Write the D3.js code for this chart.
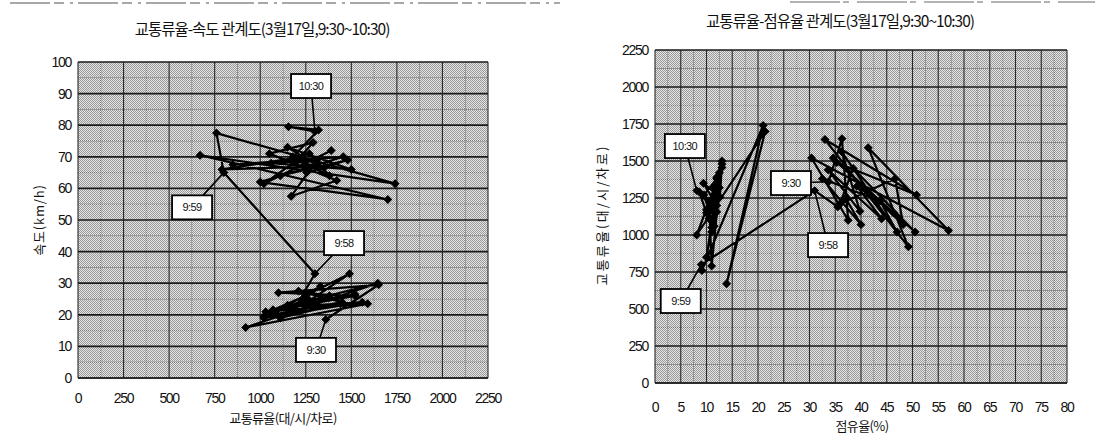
<!DOCTYPE html>
<html>
<head>
<meta charset="utf-8">
<script src="https://cdn.jsdelivr.net/npm/d3@7"></script>
<style>
  body { margin: 0; background: #fff; }
  svg text { font-family: "Liberation Sans", Arial, sans-serif; fill: #111; }
  svg .kr { font-family: "Noto Sans CJK KR", "Noto Sans", sans-serif; }
</style>
</head>
<body>
<svg id="chart" width="1095" height="435"></svg>
<script>
// one-minute samples, 9:30 ~ 10:30
const times = [
  "9:30","9:31","9:32","9:33","9:34","9:35","9:36","9:37","9:38","9:39",
  "9:40","9:41","9:42","9:43","9:44","9:45","9:46","9:47","9:48","9:49",
  "9:50","9:51","9:52","9:53","9:54","9:55","9:56","9:57","9:58","9:59",
  "10:00","10:01","10:02","10:03","10:04","10:05","10:06","10:07","10:08","10:09",
  "10:10","10:11","10:12","10:13","10:14","10:15","10:16","10:17","10:18","10:19",
  "10:20","10:21","10:22","10:23","10:24","10:25","10:26","10:27","10:28","10:29",
  "10:30"
];
// 교통류율 (대/시/차로)
const flow = [
  1360,1650,1100,1520,1030,1590,920,1645,1270,1490,
  1020,1450,1210,1380,1070,1520,1150,1330,1110,1440,
  1160,1560,1020,1230,1380,1070,1250,1190,1300,800,
  760,1740,670,1700,1000,1456,850,1310,1170,1420,
  1050,1290,1200,1350,1255,1480,1110,1390,1020,1230,
  790,1320,1150,1500,1060,1270,1380,1180,1320,1155,
  1300
];
// 속도 (km/h)
const speed = [
  18.5,29.5,27,26,21,23.5,16,30,24.5,33,
  19.5,24,27.5,26,21.5,26.5,23,29,19,23.5,
  22.5,24,19,24.5,25.5,21.5,26,22,33,65,
  77.5,61.5,70.5,56.5,62,70,67.5,69,57.5,62.5,
  71,74.5,68.5,66.5,65,69,64,72,61.5,70,
  66,67,73,66,68,71,64,70,78.5,79.5,
  78
];
// 점유율 (%)
const occupancy = [
  33.7,36.3,37.5,30.4,57,41.4,49.2,33,50.8,35.3,
  50.5,38.5,35.9,46.6,48.2,34.6,46.3,39.2,44,33.6,
  39.8,36.3,47,43.7,32.5,40,37,35.5,31,9,
  9.1,21,13.9,21.4,8.1,13,10,12,10,12.5,
  11,8.6,12,9.4,12.6,13,10.5,12,11,10.5,
  11,12.5,10,13,11.5,9.5,12,10.8,11.5,12,
  8.1
];

const speedTicks = d3.range(0, 101, 10);
const flowTicks = d3.range(0, 2251, 250);
const occTicks = d3.range(0, 81, 5);

// callout boxes: which sample they point at and where the box sits (data units)
const speedNotes = [
  { time: "10:30", bx: 1279, by: 92.4 },
  { time: "9:59", bx: 626, by: 54 },
  { time: "9:58", bx: 1460, by: 42.7 },
  { time: "9:30", bx: 1306, by: 8.9 }
];
const occNotes = [
  { time: "10:30", bx: 5.8, by: 1601 },
  { time: "9:59", bx: 5.0, by: 554 },
  { time: "9:30", bx: 26.4, by: 1351 },
  { time: "9:58", bx: 33.6, by: 932 }
];

const svg = d3.select("#chart");

// halftone background like the scanned original
const defs = svg.append("defs");
const pat = defs.append("pattern")
  .attr("id", "halftone")
  .attr("width", 4).attr("height", 4)
  .attr("patternUnits", "userSpaceOnUse");
pat.append("rect").attr("width", 4).attr("height", 4).attr("fill", "#e4e4e4");
[[0,0],[2,0],[1,1],[3,1],[0,2],[2,2],[1,3],[3,3]].forEach(([x, y]) => {
  pat.append("rect").attr("x", x).attr("y", y).attr("width", 1).attr("height", 1).attr("fill", "#9a9a9a");
});

// faint scan marks along the top edge
svg.append("line").attr("x1", 10).attr("x2", 560).attr("y1", 3).attr("y2", 3)
  .attr("stroke", "#8a8a8a").attr("stroke-width", 1.5).attr("stroke-dasharray", "40,4,10,6,3,5");
svg.append("line").attr("x1", 790).attr("x2", 1095).attr("y1", 2).attr("y2", 2)
  .attr("stroke", "#9a9a9a").attr("stroke-width", 1.5).attr("stroke-dasharray", "50,3,6,8");

function drawPanel(cfg) {
  const x = d3.scaleLinear().domain(cfg.xDomain).range([cfg.left, cfg.right]);
  const y = d3.scaleLinear().domain(cfg.yDomain).range([cfg.bottom, cfg.top]);
  const g = svg.append("g");

  g.append("rect")
    .attr("x", cfg.left).attr("y", cfg.top)
    .attr("width", cfg.right - cfg.left).attr("height", cfg.bottom - cfg.top)
    .attr("fill", "url(#halftone)");

  // minor grid (half steps)
  const xMinor = d3.range(cfg.xDomain[0], cfg.xDomain[1], cfg.xStep / 2).filter((v, i) => i % 2 == 1);
  const yMinor = d3.range(cfg.yDomain[0], cfg.yDomain[1], cfg.yStep / 2).filter((v, i) => i % 2 == 1);
  g.selectAll(".xminor").data(xMinor).join("line")
    .attr("x1", d => x(d)).attr("x2", d => x(d))
    .attr("y1", cfg.top).attr("y2", cfg.bottom)
    .attr("stroke", "#666").attr("stroke-width", 0.8).attr("stroke-dasharray", "1,1");
  g.selectAll(".yminor").data(yMinor).join("line")
    .attr("x1", cfg.left).attr("x2", cfg.right)
    .attr("y1", d => y(d)).attr("y2", d => y(d))
    .attr("stroke", "#666").attr("stroke-width", 0.8).attr("stroke-dasharray", "1,1");

  // major grid
  g.selectAll(".xmajor").data(cfg.xTicks).join("line")
    .attr("x1", d => x(d)).attr("x2", d => x(d))
    .attr("y1", cfg.top).attr("y2", cfg.bottom)
    .attr("stroke", "#2a2a2a").attr("stroke-width", 1.1);
  g.selectAll(".ymajor").data(cfg.yTicks).join("line")
    .attr("x1", cfg.left).attr("x2", cfg.right)
    .attr("y1", d => y(d)).attr("y2", d => y(d))
    .attr("stroke", "#1a1a1a").attr("stroke-width", 1.7);

  g.append("line")
    .attr("x1", cfg.left).attr("x2", cfg.right)
    .attr("y1", cfg.bottom).attr("y2", cfg.bottom)
    .attr("stroke", "#222").attr("stroke-width", 1.4);

  // tick labels
  g.selectAll(".ylab").data(cfg.yTicks).join("text")
    .attr("x", cfg.left - 7).attr("y", d => y(d) + 5)
    .attr("text-anchor", "end")
    .attr("font-size", 14).attr("letter-spacing", -1.3)
    .text(d => d);
  g.selectAll(".xlab").data(cfg.xTicks).join("text")
    .attr("x", d => x(d)).attr("y", cfg.bottom + cfg.xLabGap)
    .attr("text-anchor", "middle")
    .attr("font-size", 14).attr("letter-spacing", -1.3)
    .text(d => d);

  // titles
  g.append("text").attr("class", "kr")
    .attr("x", cfg.titleX).attr("y", cfg.titleY)
    .attr("text-anchor", "middle").attr("font-size", 15.5).attr("letter-spacing", -1)
    .text(cfg.title);
  g.append("text").attr("class", "kr")
    .attr("x", cfg.xTitleX).attr("y", cfg.xTitleY)
    .attr("text-anchor", "middle").attr("font-size", 13).attr("letter-spacing", -0.6)
    .text(cfg.xTitle);
  g.append("text").attr("class", "kr")
    .attr("transform", `translate(${cfg.yTitleX},${cfg.yTitleY}) rotate(-90)`)
    .attr("text-anchor", "middle").attr("font-size", 13).attr("letter-spacing", cfg.yTitleSpacing)
    .text(cfg.yTitle);

  // trajectory
  const pts = times.map((t, i) => ({ t, x: cfg.xs[i], y: cfg.ys[i] }));
  const line = d3.line().x(d => x(d.x)).y(d => y(d.y));
  g.append("path").datum(pts)
    .attr("d", line)
    .attr("fill", "none").attr("stroke", "#000")
    .attr("stroke-width", 2.2).attr("stroke-linejoin", "round");
  g.selectAll(".pt").data(pts).join("path")
    .attr("transform", d => `translate(${x(d.x)},${y(d.y)}) rotate(45)`)
    .attr("d", d3.symbol(d3.symbolSquare, 40))
    .attr("fill", "#000");

  // callouts
  const notes = g.selectAll(".note").data(cfg.notes).join("g");
  notes.append("line")
    .attr("x1", d => x(d.bx)).attr("y1", d => y(d.by))
    .attr("x2", d => x(pts.find(p => p.t == d.time).x))
    .attr("y2", d => y(pts.find(p => p.t == d.time).y))
    .attr("stroke", "#000").attr("stroke-width", 1.6);
  notes.append("rect")
    .attr("x", d => x(d.bx) - 20).attr("y", d => y(d.by) - 12)
    .attr("width", 40).attr("height", 24)
    .attr("fill", "#fff").attr("stroke", "#000").attr("stroke-width", 1.8);
  notes.append("text")
    .attr("x", d => x(d.bx)).attr("y", d => y(d.by) + 4)
    .attr("text-anchor", "middle").attr("font-size", 11).attr("letter-spacing", -0.6)
    .text(d => d.time);
}

drawPanel({
  left: 78, right: 488, top: 62, bottom: 378,
  xDomain: [0, 2250], yDomain: [0, 100], xStep: 250, yStep: 10,
  xTicks: flowTicks, yTicks: speedTicks, xLabGap: 25,
  xs: flow, ys: speed, notes: speedNotes,
  title: "교통류율-속도 관계도(3월17일,9:30~10:30)", titleX: 262, titleY: 35,
  xTitle: "교통류율(대/시/차로)", xTitleX: 283, xTitleY: 423,
  yTitle: "속도(km/h)", yTitleX: 44, yTitleY: 220, yTitleSpacing: 0.8
});

drawPanel({
  left: 655, right: 1067, top: 50, bottom: 383,
  xDomain: [0, 80], yDomain: [0, 2250], xStep: 5, yStep: 250,
  xTicks: occTicks, yTicks: flowTicks, xLabGap: 29,
  xs: occupancy, ys: flow, notes: occNotes,
  title: "교통류율-점유율 관계도(3월17일,9:30~10:30)", titleX: 840, titleY: 27,
  xTitle: "점유율(%)", xTitleX: 862, xTitleY: 431,
  yTitle: "교통류율(대/시/차로)", yTitleX: 607, yTitleY: 215, yTitleSpacing: 2.2
});
</script>
</body>
</html>
